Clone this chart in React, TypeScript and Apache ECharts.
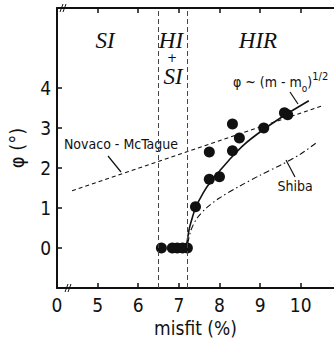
import React, { useEffect, useRef } from 'react';
import * as echarts from 'echarts';

// axis (the 0–5 stretch is broken: axis value 4 carries the "0" label)
const xTickValues = [4, 5, 6, 7, 8, 9, 10];
const xTickLabels = ['0', '5', '6', '7', '8', '9', '10'];
const yTickValues = [0, 1, 2, 3, 4];
const boundaryLines = [6.5, 7.2];

// measured data
const zeroPhaseMisfit = [6.57, 6.84, 6.96, 7.09, 7.21];
const zeroPhaseAngle = [0, 0, 0, 0, 0];
const rotatedMisfit = [7.41, 7.75, 8.0, 7.75, 8.32, 8.49, 8.32, 9.09, 9.6, 9.68];
const rotatedAngle = [1.03, 1.72, 1.78, 2.4, 2.43, 2.75, 3.1, 3.0, 3.38, 3.33];

// curves
const sqrtFitMisfit = [7.2, 7.25, 7.3, 7.41, 7.6, 7.8, 8.0, 8.3, 8.6, 9.0, 9.5, 10.2];
const sqrtFitAngle = [0.12, 0.45, 0.65, 1.0, 1.38, 1.68, 1.92, 2.27, 2.58, 2.9, 3.25, 3.68];
const novacoMisfit = [4.37, 10.57];
const novacoAngle = [1.43, 3.57];
const shibaMisfit = [7.22, 7.3, 7.45, 7.7, 8.0, 8.5, 9.0, 9.5, 10.0, 10.37];
const shibaAngle = [0.12, 0.45, 0.75, 1.02, 1.25, 1.55, 1.82, 2.07, 2.35, 2.62];

const pairs = (xs: number[], ys: number[]) => xs.map((x, i) => [x, ys[i]]);

export default function App() {
  const ref = useRef<HTMLDivElement>(null);
  useEffect(() => {
    if (!ref.current) return;
    const chart = echarts.init(ref.current, null, { renderer: 'svg' });
    const fam = 'DejaVu Sans Condensed, DejaVu Sans';
    const labelFont = { fontFamily: fam, fontSize: 19, color: '#111' };
    const regionFont = { fontFamily: 'Liberation Serif', fontStyle: 'italic', fontSize: 23, fill: '#111' };
    const noteFont = { fontFamily: fam, fontSize: 14, fill: '#111' };
    const lineStyle = { stroke: '#111', lineWidth: 1.2 };
    chart.setOption({
      animation: false,
      backgroundColor: '#fff',
      grid: { left: 57, right: 0, top: 8, bottom: 50, containLabel: false, outerBoundsMode: 'none' },
      xAxis: [
        {
          type: 'value', min: 4, max: 10.82, position: 'bottom',
          name: 'misfit (%)', nameLocation: 'middle', nameGap: 27,
          nameTextStyle: { ...labelFont },
          axisLine: { onZero: false, lineStyle: { color: '#111', width: 2 } },
          axisTick: { inside: true, length: 5, customValues: [5, 6, 7, 8, 9, 10], lineStyle: { color: '#111', width: 1.5 } },
          axisLabel: {
            ...labelFont, margin: 7, customValues: xTickValues,
            formatter: (v: number) => xTickLabels[xTickValues.indexOf(v)] ?? '',
          },
          splitLine: { show: false },
        },
        {
          type: 'value', min: 4, max: 10.82, position: 'top',
          axisLine: { onZero: false, lineStyle: { color: '#111', width: 2 } },
          axisTick: { inside: true, length: 5, customValues: [5, 6, 7, 8, 9, 10], lineStyle: { color: '#111', width: 1.5 } },
          axisLabel: { show: false },
          splitLine: { show: false },
        },
      ],
      yAxis: {
        type: 'value', min: -1, max: 6,
        name: 'φ (°)', nameLocation: 'middle', nameGap: 30, nameRotate: 90,
        nameTextStyle: { ...labelFont, fontSize: 20 },
        axisLine: { onZero: false, lineStyle: { color: '#111', width: 2 } },
        axisTick: { inside: true, length: 5, customValues: yTickValues, lineStyle: { color: '#111', width: 1.5 } },
        axisLabel: { ...labelFont, margin: 6, customValues: yTickValues },
        splitLine: { show: false },
      },
      series: [
        {
          type: 'line', data: pairs(novacoMisfit, novacoAngle), showSymbol: false,
          lineStyle: { color: '#111', width: 1.1, type: [4, 3] },
          markLine: {
            silent: true, symbol: 'none', label: { show: false },
            lineStyle: { color: '#444', width: 1, type: [5, 3] },
            data: boundaryLines.map((x) => ({ xAxis: x })),
          },
        },
        {
          type: 'line', data: pairs(shibaMisfit, shibaAngle), showSymbol: false, smooth: 0.3,
          lineStyle: { color: '#111', width: 1.1, type: [6, 3, 1.5, 3] },
        },
        {
          type: 'line', data: pairs(sqrtFitMisfit, sqrtFitAngle), showSymbol: false, smooth: 0.3,
          lineStyle: { color: '#111', width: 1.6 },
        },
        {
          type: 'scatter', data: pairs(zeroPhaseMisfit, zeroPhaseAngle), symbolSize: 11,
          itemStyle: { color: '#111', opacity: 1 },
        },
        {
          type: 'scatter', data: pairs(rotatedMisfit, rotatedAngle), symbolSize: 11,
          itemStyle: { color: '#111', opacity: 1 },
        },
      ],
      graphic: [
        { type: 'text', x: 105, y: 40, style: { ...regionFont, text: 'SI', align: 'center', verticalAlign: 'middle' } },
        { type: 'text', x: 171, y: 40, style: { ...regionFont, text: 'HI', align: 'center', verticalAlign: 'middle' } },
        { type: 'text', x: 172, y: 58, style: { fontFamily: 'DejaVu Sans', fontSize: 12, fill: '#111', text: '+', align: 'center', verticalAlign: 'middle' } },
        { type: 'text', x: 173, y: 76, style: { ...regionFont, text: 'SI', align: 'center', verticalAlign: 'middle' } },
        { type: 'text', x: 258, y: 40, style: { ...regionFont, text: 'HIR', align: 'center', verticalAlign: 'middle' } },
        { type: 'text', x: 121, y: 144, style: { ...noteFont, text: 'Novaco - McTague', align: 'center', verticalAlign: 'middle' } },
        { type: 'line', shape: { x1: 108, y1: 156, x2: 121, y2: 172 }, style: lineStyle },
        {
          type: 'text', x: 233, y: 82,
          style: {
            rich: {
              a: { fontFamily: fam, fontSize: 14, fill: '#111', lineHeight: 22, verticalAlign: 'middle' },
              sub: { fontFamily: fam, fontSize: 10, fill: '#111', lineHeight: 22, verticalAlign: 'bottom' },
              sup: { fontFamily: fam, fontSize: 11, fill: '#111', lineHeight: 22, verticalAlign: 'top' },
            },
            text: '{a|φ ~ (m - m}{sub|o}{a|)}{sup|1/2}',
            verticalAlign: 'middle',
          },
        },
        { type: 'line', shape: { x1: 290, y1: 92, x2: 298, y2: 104 }, style: lineStyle },
        { type: 'text', x: 295, y: 186, style: { ...noteFont, text: 'Shiba', align: 'center', verticalAlign: 'middle' } },
        { type: 'line', shape: { x1: 286, y1: 160, x2: 295, y2: 177 }, style: lineStyle },
        // axis break marks
        { type: 'line', shape: { x1: 65, y1: 292, x2: 68, y2: 284 }, style: { stroke: '#111', lineWidth: 1 } },
        { type: 'line', shape: { x1: 68, y1: 292, x2: 71, y2: 284 }, style: { stroke: '#111', lineWidth: 1 } },
        { type: 'line', shape: { x1: 60, y1: 12, x2: 63, y2: 4 }, style: { stroke: '#111', lineWidth: 1 } },
        { type: 'line', shape: { x1: 63, y1: 12, x2: 66, y2: 4 }, style: { stroke: '#111', lineWidth: 1 } },
      ],
    });
    return () => chart.dispose();
  }, []);
  return <div ref={ref} style={{ position: 'absolute', left: 0, top: 0, width: 334, height: 338 }} />;
}
